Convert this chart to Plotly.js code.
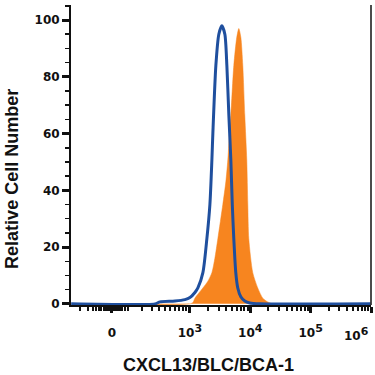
<!DOCTYPE html>
<html>
<head>
<meta charset="utf-8">
<script src="https://cdn.plot.ly/plotly-3.0.1.min.js"></script>
<style>html,body{margin:0;padding:0;background:#fff;}#chart{width:375px;height:375px;}</style>
</head>
<body>
<div id="chart"></div>
<script>
// x values are in display decades (log10 of fluorescence; "0" sits at 1.706)
var isotypeX = [1.033, 2.421, 2.504, 2.752, 2.917, 3.000, 3.083, 3.132, 3.215, 3.281, 3.331, 3.364, 3.380, 3.430, 3.479, 3.529, 3.579, 3.612, 3.645, 3.678, 3.702, 3.727, 3.760, 3.793, 3.843, 3.909, 3.992, 4.157, 5.992];
var isotypeY = [0, 0, 0.7, 1.0, 1.5, 2.2, 4, 5.6, 11, 23, 35, 50.7, 60, 84, 95, 98, 95, 84, 66.5, 50.7, 35, 23, 11, 5.6, 2.5, 1, 0.3, 0, 0];

var stainedX = [1.033, 3.000, 3.050, 3.083, 3.215, 3.298, 3.364, 3.413, 3.463, 3.545, 3.595, 3.628, 3.661, 3.678, 3.727, 3.777, 3.810, 3.843, 3.876, 3.909, 3.942, 3.959, 3.975, 4.041, 4.124, 4.207, 4.289, 4.372, 5.992];
var stainedY = [0, 0, 0.5, 2, 5.6, 8, 11, 16, 23, 35, 43, 50.7, 62, 66.5, 84, 94, 97, 94, 84, 66.5, 50.7, 35, 23, 11, 5.6, 2, 0.7, 0, 0];

var supStyle = '<sup><span style="font-size:11px">';
var xTickVals = [1.706, 3, 4, 5, 6];
var xTickText = ['0', '10' + supStyle + '3</span></sup>', '10' + supStyle + '4</span></sup>', '10' + supStyle + '5</span></sup>', ''];
var xLastLabel = '10' + supStyle + '6</span></sup>';
var xMinorLow = [1.178, 1.310, 1.393, 1.443, 1.492, 1.526, 1.575, 1.608, 1.642, 1.675, 1.741, 1.774, 1.807, 1.840, 1.873, 1.923, 1.973, 2.205, 2.370, 2.486, 2.586, 2.669, 2.751, 2.818, 2.884, 2.934];
var yTickVals = [0, 20, 40, 60, 80, 100];
var xTitle = 'CXCL13/BLC/BCA-1';
var yTitle = 'Relative Cell Number';

var xMinor = xMinorLow.slice();
[3, 4, 5].forEach(function (d) {
  for (var k = 2; k <= 9; k++) xMinor.push(d + Math.log10(k));
});

var tickFont = {family: 'DejaVu Sans', size: 12, color: '#111', weight: 'bold'};
var titleFont = {family: 'Liberation Sans, Arial', size: 18, color: '#111', weight: 'bold'};

var traces = [
  {x: stainedX, y: stainedY, type: 'scatter', mode: 'lines', fill: 'tozeroy',
   fillcolor: '#f7851f', line: {color: '#f7851f', width: 0.5, shape: 'spline', smoothing: 0.7},
   hoverinfo: 'skip'},
  {x: isotypeX, y: isotypeY, type: 'scatter', mode: 'lines',
   line: {color: '#1f4f9e', width: 3, shape: 'spline', smoothing: 0.7},
   hoverinfo: 'skip'}
];

var layout = {
  width: 375, height: 375,
  margin: {l: 71, r: 4, t: 5, b: 70},
  paper_bgcolor: '#fff', plot_bgcolor: '#fff',
  showlegend: false,
  xaxis: {
    range: [1.03, 6.0], showgrid: false, zeroline: false,
    showline: true, linecolor: '#111', linewidth: 2,
    tickmode: 'array', tickvals: xTickVals, ticktext: xTickText,
    ticks: 'outside', ticklen: 6, tickwidth: 3, tickcolor: '#111',
    ticklabelstandoff: 10,
    tickfont: tickFont,
    minor: {tickmode: 'array', tickvals: xMinor, ticks: 'outside', ticklen: 4, tickwidth: 2, tickcolor: '#111', showgrid: false}
  },
  yaxis: {
    range: [-0.4, 105.3], showgrid: false, zeroline: false,
    showline: true, linecolor: '#111', linewidth: 2,
    tickmode: 'array', tickvals: yTickVals,
    ticks: 'outside', ticklen: 7, tickwidth: 3, tickcolor: '#111',
    tickfont: tickFont,
    minor: {dtick: 5, ticks: 'outside', ticklen: 4, tickwidth: 1.5, tickcolor: '#111', showgrid: false}
  },
  annotations: [
    {text: xLastLabel, xref: 'x', yref: 'paper', x: 6, y: -0.097, xanchor: 'right', yanchor: 'middle',
     showarrow: false, font: tickFont},
    {text: xTitle, xref: 'paper', yref: 'paper', x: 0.457, y: -0.2, xanchor: 'center', yanchor: 'middle',
     showarrow: false, font: titleFont},
    {text: yTitle, xref: 'paper', yref: 'paper', x: -0.197, y: 0.42, xanchor: 'center', yanchor: 'middle',
     textangle: -90, showarrow: false, font: titleFont}
  ],
  shapes: [
    {type: 'line', xref: 'paper', yref: 'paper', x0: 1, x1: 1, y0: 0, y1: 1, line: {color: '#111', width: 1.5}}
  ]
};

Plotly.newPlot('chart', traces, layout, {staticPlot: true, displayModeBar: false});
</script>
</body>
</html>
